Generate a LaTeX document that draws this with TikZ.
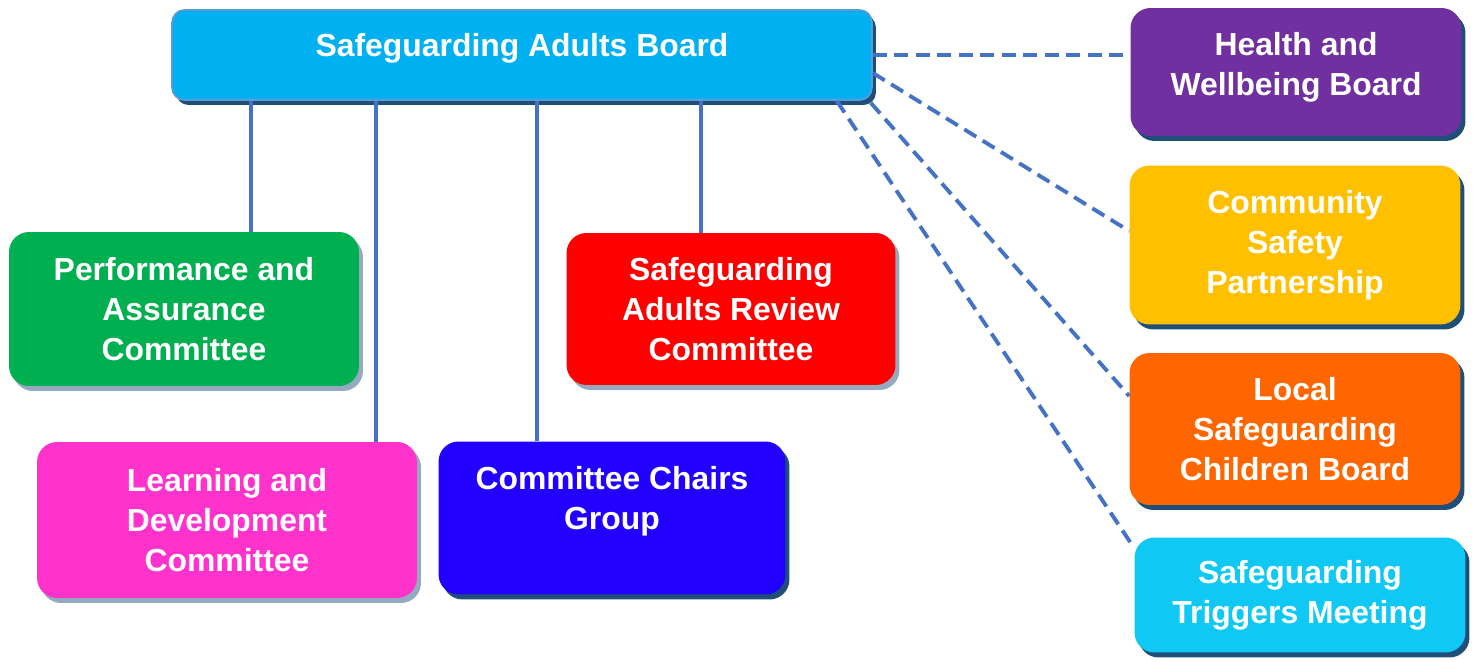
\documentclass[tikz,border=0pt]{standalone}
\usepackage{fontspec}
\setmainfont{Liberation Sans}
\usetikzlibrary{%
        calc,%
        shadows%
    }

\definecolor{sabblue}{HTML}{00B0F0}
\definecolor{sabedge}{HTML}{5B9BD5}
\definecolor{hwbpurple}{HTML}{7030A0}
\definecolor{cspyellow}{HTML}{FFC000}
\definecolor{lscborange}{HTML}{FF6600}
\definecolor{stmcyan}{HTML}{10C8F4}
\definecolor{pacgreen}{HTML}{00B050}
\definecolor{sarcred}{HTML}{FF0000}
\definecolor{ldcpink}{HTML}{FF33CC}
\definecolor{ccgblue}{HTML}{2200FF}
\definecolor{linkblue}{HTML}{4472C4}
\definecolor{darkshade}{HTML}{1F4E79}
\definecolor{lightshade}{HTML}{95A9C0}

\begin{document}
\begin{tikzpicture}[
        x=0.02cm, y=-0.02cm,
        board/.style={rectangle, rounded corners=0.4cm, inner sep=0pt,
            align=center, text=white,
            font={\fontsize{18.15pt}{22.76pt}\selectfont\bfseries},
            general shadow={fill=#1, shadow xshift=0.08cm, shadow yshift=-0.1cm}},
        board/.default=darkshade,
        orgline/.style={linkblue, line width=2.2pt},
        partner/.style={linkblue, line width=2.2pt, dash pattern=on 0.28cm off 0.15cm}
        ]

        % Page
        \useasboundingbox (0,0) rectangle (1478,662);

        % Main board
        \node[board, fill=sabblue, draw=sabedge, line width=1pt, rounded corners=0.25cm,
            minimum width=14.0cm, minimum height=1.8cm, text depth=0.42cm]
            (sab) at (522,55) {Safeguarding Adults Board};

        % Committees
        \node[board=lightshade, fill=pacgreen, minimum width=7.0cm, minimum height=3.08cm]
            (pac) at (184,309) {Performance and\\Assurance\\Committee};
        \node[board=lightshade, fill=sarcred, minimum width=6.58cm, minimum height=3.04cm]
            (sarc) at (731,309) {Safeguarding\\Adults Review\\Committee};
        \node[board=lightshade, fill=ldcpink, minimum width=7.6cm, minimum height=3.12cm]
            (ldc) at (227,520) {Learning and\\Development\\Committee};
        \node[board, fill=ccgblue, minimum width=6.94cm, minimum height=3.06cm]
            (ccg) at (612,518) {Committee Chairs\\Group\\~};

        % Partner boards
        \node[board, fill=hwbpurple, minimum width=6.62cm, minimum height=2.56cm, text depth=0.34cm]
            (hwb) at (1296,72) {Health and\\Wellbeing Board};
        \node[board, fill=cspyellow, minimum width=6.62cm, minimum height=3.18cm]
            (csp) at (1295,245) {Community\\Safety\\Partnership};
        \node[board, fill=lscborange, minimum width=6.62cm, minimum height=3.04cm]
            (lscb) at (1295,429) {Local\\Safeguarding\\Children Board};
        \node[board, fill=stmcyan, minimum width=6.62cm, minimum height=2.3cm]
            (stm) at (1300,595) {Safeguarding\\Triggers Meeting};

        % Reporting lines
        \coordinate (pacup) at ($(pac.north)+(67,0)$);
        \coordinate (ldcup) at ($(ldc.north)+(149,0)$);
        \coordinate (ccgup) at ($(ccg.north)+(-75,0)$);
        \coordinate (sarcup) at ($(sarc.north)+(-30,0)$);
        \draw[orgline] (pacup) -- (pacup |- sab.south);
        \draw[orgline] (ldcup) -- (ldcup |- sab.south);
        \draw[orgline] (ccgup) -- (ccgup |- sab.south);
        \draw[orgline] (sarcup) -- (sarcup |- sab.south);

        % Partnership links
        \draw[partner] (sab.east) -- (sab.east -| hwb.west);
        \draw[partner] ($(sab.east)+(0,18)$) -- ($(csp.west)+(0,-14)$);
        \draw[partner] ($(sab.south east)+(-2,2)$) -- ($(lscb.west)+(0,-33)$);
        \draw[partner] ($(sab.south east)+(-36,0)$) -- ($(stm.north west)+(-2,8)$);
    \end{tikzpicture}
\end{document}
